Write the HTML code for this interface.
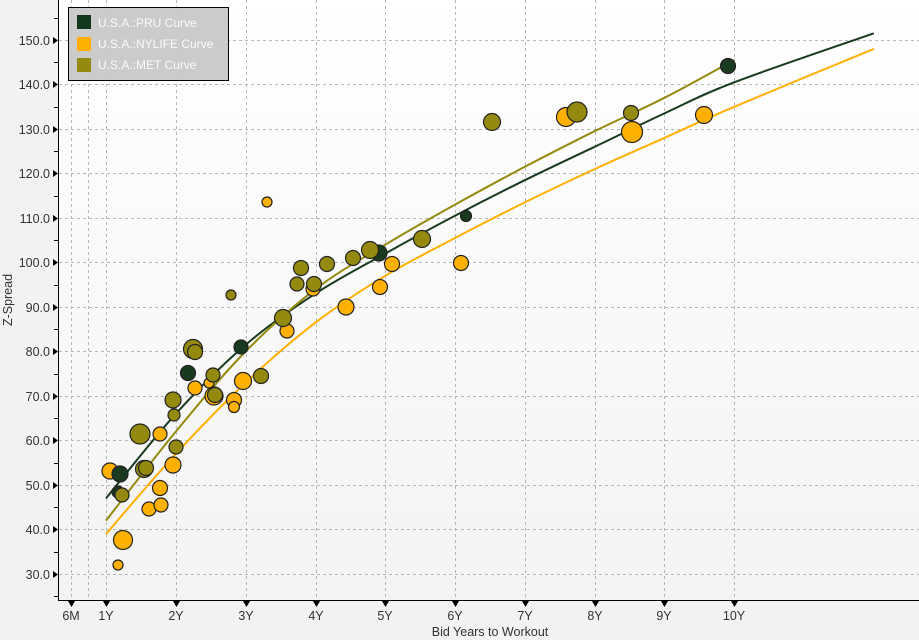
<!DOCTYPE html>
<html><head><meta charset="utf-8"><style>
html,body{margin:0;padding:0;background:#f2f2f2;width:919px;height:640px;overflow:hidden;font-family:"Liberation Sans",sans-serif}
</style></head><body>
<svg width="919" height="640" xmlns="http://www.w3.org/2000/svg" style="position:absolute;left:0;top:0">
<defs><linearGradient id="bg" x1="0" y1="0" x2="0" y2="1"><stop offset="0" stop-color="#ffffff"/><stop offset="1" stop-color="#f3f3f3"/></linearGradient></defs>
<rect x="59" y="0" width="860" height="600" fill="url(#bg)"/>
<g stroke="#b8b8b8" stroke-dasharray="3,3" stroke-width="1">
<line x1="71.5" y1="0" x2="71.5" y2="600"/><line x1="88.5" y1="0" x2="88.5" y2="600"/>
<line x1="106.5" y1="0" x2="106.5" y2="600"/><line x1="176.5" y1="0" x2="176.5" y2="600"/>
<line x1="246.5" y1="0" x2="246.5" y2="600"/><line x1="316.5" y1="0" x2="316.5" y2="600"/>
<line x1="385.5" y1="0" x2="385.5" y2="600"/><line x1="455.5" y1="0" x2="455.5" y2="600"/>
<line x1="525.5" y1="0" x2="525.5" y2="600"/><line x1="595.5" y1="0" x2="595.5" y2="600"/>
<line x1="664.5" y1="0" x2="664.5" y2="600"/><line x1="734.5" y1="0" x2="734.5" y2="600"/>
<line x1="59" y1="40.5" x2="919" y2="40.5"/><line x1="59" y1="84.5" x2="919" y2="84.5"/>
<line x1="59" y1="129.5" x2="919" y2="129.5"/><line x1="59" y1="173.5" x2="919" y2="173.5"/>
<line x1="59" y1="218.5" x2="919" y2="218.5"/><line x1="59" y1="262.5" x2="919" y2="262.5"/>
<line x1="59" y1="307.5" x2="919" y2="307.5"/><line x1="59" y1="351.5" x2="919" y2="351.5"/>
<line x1="59" y1="396.5" x2="919" y2="396.5"/><line x1="59" y1="440.5" x2="919" y2="440.5"/>
<line x1="59" y1="485.5" x2="919" y2="485.5"/><line x1="59" y1="529.5" x2="919" y2="529.5"/>
<line x1="59" y1="574.5" x2="919" y2="574.5"/>
</g>
<g stroke="#000" stroke-width="1">
<line x1="58.5" y1="0" x2="58.5" y2="601"/><line x1="58" y1="600.5" x2="919" y2="600.5"/>
</g>
<g stroke="#000" stroke-width="1">
<line x1="54" y1="18.5" x2="58" y2="18.5"/><line x1="54" y1="62.5" x2="58" y2="62.5"/><line x1="54" y1="107.5" x2="58" y2="107.5"/><line x1="54" y1="151.5" x2="58" y2="151.5"/><line x1="54" y1="196.5" x2="58" y2="196.5"/><line x1="54" y1="240.5" x2="58" y2="240.5"/><line x1="54" y1="285.5" x2="58" y2="285.5"/><line x1="54" y1="329.5" x2="58" y2="329.5"/><line x1="54" y1="374.5" x2="58" y2="374.5"/><line x1="54" y1="418.5" x2="58" y2="418.5"/><line x1="54" y1="463.5" x2="58" y2="463.5"/><line x1="54" y1="507.5" x2="58" y2="507.5"/><line x1="54" y1="552.5" x2="58" y2="552.5"/><line x1="54" y1="596.5" x2="58" y2="596.5"/>
</g>
<g fill="#000">
<path d="M53,37 L58,40.5 L53,44Z"/><path d="M53,81 L58,84.5 L53,88Z"/><path d="M53,126 L58,129.5 L53,133Z"/><path d="M53,170 L58,173.5 L53,177Z"/><path d="M53,215 L58,218.5 L53,222Z"/><path d="M53,259 L58,262.5 L53,266Z"/><path d="M53,304 L58,307.5 L53,311Z"/><path d="M53,348 L58,351.5 L53,355Z"/><path d="M53,393 L58,396.5 L53,400Z"/><path d="M53,437 L58,440.5 L53,444Z"/><path d="M53,482 L58,485.5 L53,489Z"/><path d="M53,526 L58,529.5 L53,533Z"/><path d="M53,571 L58,574.5 L53,578Z"/>
<path d="M68,601 L71.5,607 L75,601Z"/><path d="M103,601 L106.5,607 L110,601Z"/><path d="M173,601 L176.5,607 L180,601Z"/><path d="M243,601 L246.5,607 L250,601Z"/><path d="M313,601 L316.5,607 L320,601Z"/><path d="M382,601 L385.5,607 L389,601Z"/><path d="M452,601 L455.5,607 L459,601Z"/><path d="M522,601 L525.5,607 L529,601Z"/><path d="M592,601 L595.5,607 L599,601Z"/><path d="M661,601 L664.5,607 L668,601Z"/><path d="M731,601 L734.5,607 L738,601Z"/>
</g>
<g font-size="12.5" fill="#333" text-anchor="end">
<text x="50" y="45">150.0</text><text x="50" y="89">140.0</text><text x="50" y="134">130.0</text><text x="50" y="178">120.0</text><text x="50" y="223">110.0</text><text x="50" y="267">100.0</text><text x="50" y="312">90.0</text><text x="50" y="356">80.0</text><text x="50" y="401">70.0</text><text x="50" y="445">60.0</text><text x="50" y="490">50.0</text><text x="50" y="534">40.0</text><text x="50" y="579">30.0</text>
</g>
<g font-size="12.5" fill="#333" text-anchor="middle">
<text x="71" y="620">6M</text><text x="106" y="620">1Y</text><text x="176" y="620">2Y</text><text x="246" y="620">3Y</text><text x="316" y="620">4Y</text><text x="385" y="620">5Y</text><text x="455" y="620">6Y</text><text x="525" y="620">7Y</text><text x="595" y="620">8Y</text><text x="664" y="620">9Y</text><text x="734" y="620">10Y</text>
<text x="490" y="636">Bid Years to Workout</text>
<text transform="translate(12,300) rotate(-90)">Z-Spread</text>
</g>
<g fill="none" stroke-width="2">
<path id="cN" stroke="#ffb000" d=""/>
<path id="cP" stroke="#1a3a1f" d=""/>
<path id="cM" stroke="#948a10" d=""/>
</g>
<g stroke="#222" stroke-width="1.2">
<g fill="#ffb000">
<circle cx="110" cy="471" r="8"/><circle cx="118" cy="565" r="5"/><circle cx="123" cy="540" r="9.5"/><circle cx="149" cy="509" r="7"/><circle cx="160" cy="488" r="7.5"/><circle cx="161" cy="505" r="7"/><circle cx="160" cy="434" r="7"/><circle cx="173" cy="465" r="8"/><circle cx="195" cy="388" r="7"/><circle cx="209" cy="383" r="5"/><circle cx="214" cy="396" r="9"/><circle cx="243" cy="381" r="8.5"/><circle cx="234" cy="400" r="7.5"/><circle cx="234" cy="407" r="5.5"/><circle cx="287" cy="331" r="7"/><circle cx="313" cy="289" r="7"/><circle cx="267" cy="202" r="5"/><circle cx="346" cy="307" r="8"/><circle cx="380" cy="287" r="7.5"/><circle cx="392" cy="264" r="7.5"/><circle cx="461" cy="263" r="7.5"/><circle cx="566" cy="117" r="9.5"/><circle cx="632" cy="132" r="10.5"/><circle cx="704" cy="115" r="8.5"/>
</g>
<g fill="#1a3a1f">
<circle cx="120" cy="474" r="8"/><circle cx="118" cy="492" r="6"/><circle cx="188" cy="373" r="7.5"/><circle cx="241" cy="347" r="7"/><circle cx="379" cy="253" r="8"/><circle cx="466" cy="216" r="5.5"/><circle cx="728" cy="66" r="7.5"/>
</g>
<g fill="#948a10">
<circle cx="122" cy="495" r="7"/><circle cx="140" cy="434" r="10"/><circle cx="144" cy="469" r="8.5"/><circle cx="146" cy="468" r="7.5"/><circle cx="176" cy="447" r="7"/><circle cx="174" cy="415" r="6"/><circle cx="173" cy="400" r="8"/><circle cx="193" cy="349" r="9.5"/><circle cx="195" cy="352" r="7.5"/><circle cx="213" cy="375" r="7"/><circle cx="215" cy="395" r="7.5"/><circle cx="261" cy="376" r="7.5"/><circle cx="231" cy="295" r="5"/><circle cx="283" cy="318" r="8.5"/><circle cx="297" cy="284" r="7"/><circle cx="301" cy="268" r="7.5"/><circle cx="314" cy="284" r="7.5"/><circle cx="327" cy="264" r="7.5"/><circle cx="353" cy="258" r="7.5"/><circle cx="370" cy="250" r="8.5"/><circle cx="422" cy="239" r="8.5"/><circle cx="492" cy="122" r="8.5"/><circle cx="577" cy="112" r="10"/><circle cx="631" cy="113" r="7.5"/>
</g>
</g>
<rect x="68.5" y="7.5" width="160" height="73" fill="#c8c8c8" fill-opacity="0.95" stroke="#000" stroke-width="1"/>
<rect x="77" y="15" width="14" height="14" fill="#14381c"/>
<rect x="77" y="37" width="14" height="14" fill="#ffb000"/>
<rect x="77" y="58" width="14" height="14" fill="#948a10"/>
<g font-size="12" fill="#fafafa">
<text x="98" y="27">U.S.A.:PRU Curve</text>
<text x="98" y="48">U.S.A.:NYLIFE Curve</text>
<text x="98" y="69">U.S.A.:MET Curve</text>
</g>
</svg>
<script>
function X(t){return 106+(t-1)*69.8}
function Y(v){return 574-(v-30)*4.45}
function path(pts){
 var p=pts.map(function(a){return [X(a[0]),Y(a[1])]});
 var d="M"+p[0][0].toFixed(1)+","+p[0][1].toFixed(1);
 for(var i=0;i<p.length-1;i++){
  var p0=p[i-1]||p[i],p1=p[i],p2=p[i+1],p3=p[i+2]||p2;
  var c1=[p1[0]+(p2[0]-p0[0])/6,p1[1]+(p2[1]-p0[1])/6];
  var c2=[p2[0]-(p3[0]-p1[0])/6,p2[1]-(p3[1]-p1[1])/6];
  d+=" C"+c1[0].toFixed(1)+","+c1[1].toFixed(1)+" "+c2[0].toFixed(1)+","+c2[1].toFixed(1)+" "+p2[0].toFixed(1)+","+p2[1].toFixed(1);
 }
 return d;
}
document.getElementById("cP").setAttribute("d",path([[1,47],[2,66],[3,81.5],[4,93],[5,102],[6,110.5],[7,118.5],[8,126],[9,133.5],[10,140.5],[12,151.5]]));
document.getElementById("cN").setAttribute("d",path([[1,39],[2,57],[3,73],[4,86.5],[5,97],[6,105.5],[7,113.5],[8,121],[9,128],[10,135],[12,148]]));
document.getElementById("cM").setAttribute("d",path([[1,42],[2,62],[3,80],[4,94],[5,104],[6,113],[7,121.5],[8,129.5],[9,137],[10,145.5]]));
</script>
</body></html>
